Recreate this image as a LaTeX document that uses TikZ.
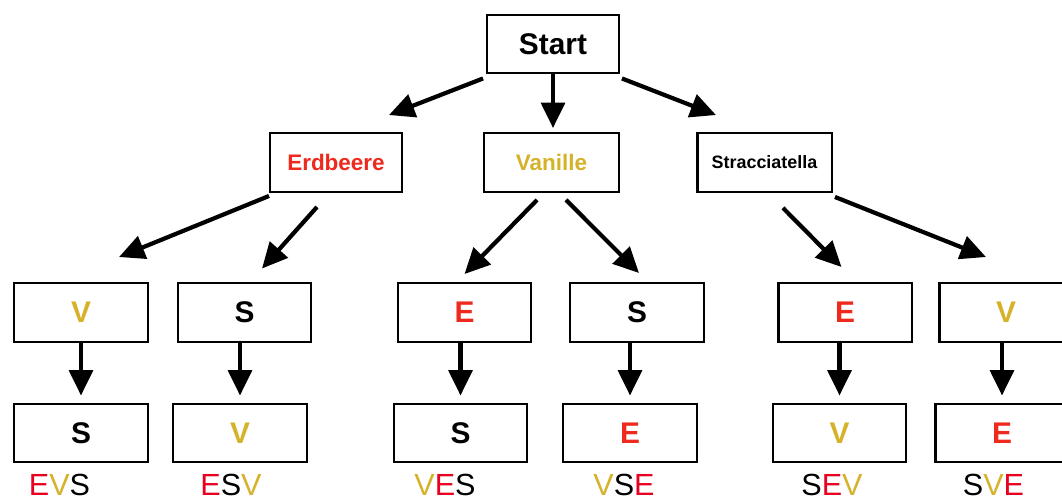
\documentclass[tikz,border=0pt]{standalone}
\usepackage{fontspec}
\setmainfont{Liberation Sans}
\usetikzlibrary{arrows.meta}
\definecolor{boxred}{RGB}{238,42,30}
\definecolor{gold}{RGB}{214,178,42}
\definecolor{labred}{RGB}{232,0,32}
\newcommand{\labE}{\textcolor{labred}{E}}
\newcommand{\labV}{\textcolor{gold}{V}}
\newcommand{\labS}{S}
\tikzset{
  box/.style={draw, line width=1.4pt, minimum width=2.67cm, minimum height=1.17cm,
    inner sep=0pt, font=\fontsize{17pt}{20pt}\selectfont\bfseries},
  arr/.style={-{Triangle[length=14.5pt,width=13.5pt]}, line width=2.4pt},
  lab/.style={anchor=base, inner sep=0pt, font=\fontsize{17.4pt}{20pt}\selectfont},
}

\begin{document}
\begin{tikzpicture}[x=0.02cm,y=-0.02cm]
    \useasboundingbox (0,0) rectangle (1062,500);
    \clip (0,0) rectangle (1062,500);
    % first choice
    \node[box, minimum width=2.63cm] (start) at (553,44) {Start};
    \node[box, minimum width=2.63cm, text=boxred, font=\fontsize{12.8pt}{15pt}\selectfont\bfseries] (erd) at (336,162.5) {Erdbeere};
    \node[box, minimum width=2.69cm, text=gold, font=\fontsize{12.8pt}{15pt}\selectfont\bfseries] (van) at (551.5,162.5) {Vanille};
    \node[box, minimum width=2.69cm, font=\fontsize{10.2pt}{12pt}\selectfont\bfseries] (str) at (764.5,162.5) {Stracciatella};
    % second choice
    \node[box, text=gold] (v1) at (81,312.5) {V};
    \node[box] (s1) at (244.5,312.5) {S};
    \node[box, text=boxred] (e2) at (464.5,312.5) {E};
    \node[box] (s2) at (637,312.5) {S};
    \node[box, text=boxred] (e3) at (845,312.5) {E};
    \node[box, text=gold] (v3) at (1006,312.5) {V};
    % third choice
    \node[box] (s1b) at (81,433) {S};
    \node[box, text=gold] (v1b) at (240,433) {V};
    \node[box] (s2b) at (460.5,433) {S};
    \node[box, text=boxred] (e2b) at (630,433) {E};
    \node[box, text=gold] (v3b) at (839.5,433) {V};
    \node[box, text=boxred] (e3b) at (1002,433) {E};
    % arrows
    \draw[arr] ([shift={(-3,4)}]start.south west) -- ([shift={(53,-17)}]erd.north);
    \draw[arr, shorten >=0.08cm] (start.south) -- (start.south |- van.north);
    \draw[arr] ([shift={(2,4)}]start.south east) -- ([shift={(-48.5,-17)}]str.north);
    \draw[arr] ([shift={(0,3)}]erd.south west) -- ([shift={(38,-25)}]v1.north);
    \draw[arr] ([shift={(-19,14)}]erd.south) -- ([shift={(17.5,-13.5)}]s1.north);
    \draw[arr] ([shift={(-14.5,7)}]van.south) -- ([shift={(0,-8)}]e2.north);
    \draw[arr] ([shift={(14.5,7)}]van.south) -- ([shift={(2,-9)}]s2.north);
    \draw[arr] ([shift={(18.5,15)}]str.south) -- ([shift={(-3.5,-15)}]e3.north);
    \draw[arr] ([shift={(2,4)}]str.south east) -- ([shift={(-20,-25)}]v3.north);
    \foreach \a/\b in {v1/s1b,s1/v1b,e2/s2b,s2/e2b,e3/v3b,v3/e3b}
        \draw[arr, shorten >=0.14cm] (\b |- \a.south) -- (\b.north);
    % orders
    \foreach \x/\n/\lab in {59.5/evs/{\labE\labV\labS}, 231/esv/{\labE\labS\labV},
        445/ves/{\labV\labE\labS}, 624/vse/{\labV\labS\labE},
        832/sev/{\labS\labE\labV}, 993.5/sve/{\labS\labV\labE}}
        \node[lab] (\n) at (\x,495) {\lab};
\end{tikzpicture}
\end{document}
